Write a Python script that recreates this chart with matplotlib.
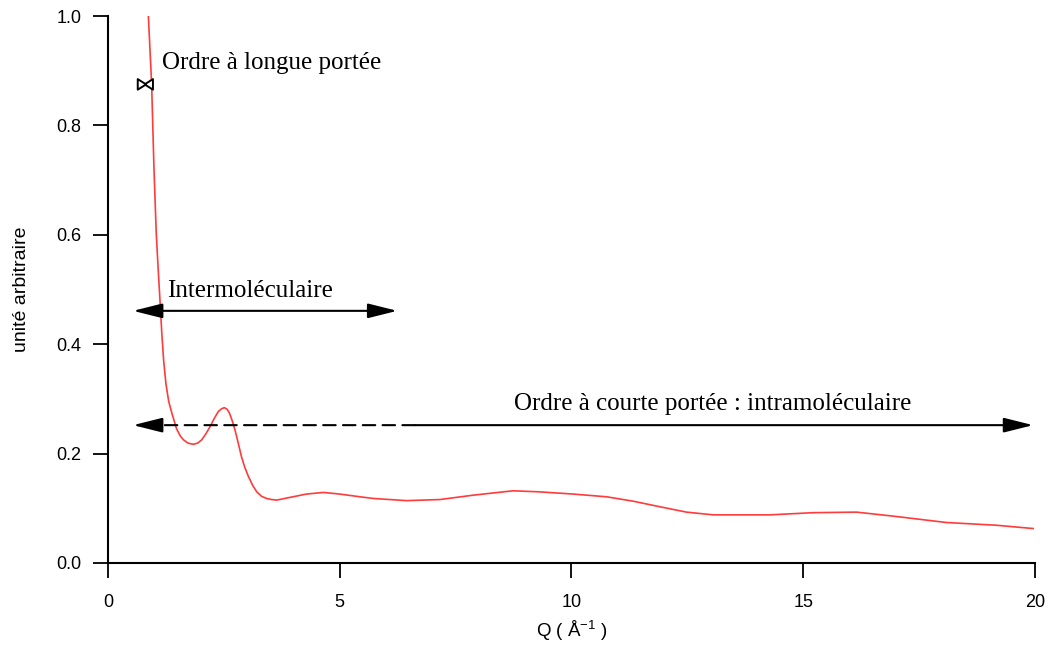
import matplotlib
matplotlib.use("Agg")
import matplotlib.pyplot as plt

# facteur de structure
q = [0.87, 0.94, 0.99, 1.04, 1.08, 1.12, 1.16, 1.20, 1.25, 1.31, 1.39, 1.48,
     1.56, 1.63, 1.73, 1.84, 1.93, 2.02, 2.11, 2.20, 2.29, 2.38, 2.45, 2.51,
     2.57, 2.62, 2.68, 2.74, 2.81, 2.88, 2.95, 3.03, 3.12, 3.21, 3.31, 3.42,
     3.53, 3.64, 3.93, 4.28, 4.65, 5.00, 5.44, 5.72, 6.44, 7.16, 7.88, 8.74,
     9.32, 10.04, 10.76, 11.33, 11.84, 12.48, 13.06, 14.28, 15.22, 16.15,
     17.01, 18.09, 19.17, 19.96]
s_q = [1.000, 0.877, 0.724, 0.603, 0.540, 0.481, 0.420, 0.370, 0.327, 0.295,
       0.270, 0.245, 0.232, 0.225, 0.219, 0.217, 0.219, 0.225, 0.236, 0.249,
       0.264, 0.277, 0.282, 0.284, 0.281, 0.274, 0.260, 0.243, 0.219, 0.194,
       0.175, 0.158, 0.142, 0.130, 0.122, 0.118, 0.116, 0.115, 0.120, 0.126,
       0.129, 0.126, 0.121, 0.118, 0.114, 0.116, 0.124, 0.132, 0.130, 0.126,
       0.121, 0.113, 0.104, 0.093, 0.088, 0.088, 0.092, 0.093, 0.085, 0.074,
       0.069, 0.063]

x_ticks = [0, 5, 10, 15, 20]
y_ticks = [0.0, 0.2, 0.4, 0.6, 0.8, 1.0]

# flèches : (début, fin, hauteur)
inter_arrow = (0.54, 6.24, 0.461)
courte_split = 6.62
courte_arrow = (0.54, 19.96, 0.252)
longue_mark = (0.75, 0.86, 0.875)

plt.rcParams["mathtext.default"] = "regular"
sans = ["Liberation Sans", "DejaVu Sans"]
serif = ["Liberation Serif", "DejaVu Serif"]

fig = plt.figure(figsize=(10.52, 6.46), dpi=100)
ax = fig.add_axes([0.1027, 0.1285, 0.8811, 0.8467])

ax.plot(q, s_q, color="#ff3b3b", lw=1.2, zorder=3)

ax.set_xlim(0, 20)
ax.set_ylim(0, 1.0)
ax.set_xticks(x_ticks)
ax.set_yticks(y_ticks)
ax.set_xticklabels([str(t) for t in x_ticks], family=sans, fontsize=13)
ax.set_yticklabels([f"{t:.1f}" for t in y_ticks], family=sans, fontsize=13)
ax.tick_params(axis="x", direction="out", length=11, width=1.3, pad=11)
ax.tick_params(axis="y", direction="out", length=11, width=1.3, pad=8)
for side in ("top", "right"):
    ax.spines[side].set_visible(False)
for side in ("left", "bottom"):
    ax.spines[side].set_linewidth(1.5)

ax.set_xlabel("Q ( Å$^{-1}$ )", family=sans, fontsize=13.5, labelpad=6)
ax.set_ylabel("unité arbitraire", family=sans, fontsize=14, labelpad=19)

head = "head_length=1.8,head_width=0.45"
a0, a1, ay = inter_arrow
ax.annotate("", xy=(a1, ay), xytext=(a0, ay),
            arrowprops=dict(arrowstyle="<|-|>," + head, mutation_scale=10,
                            color="black", lw=1.5, shrinkA=0, shrinkB=0))
ax.text(1.27, 0.497, "Intermoléculaire", family=serif, fontsize=18,
        ha="left", va="center")

c0, c1, cy = courte_arrow
# partie pointillée + tête pleine à gauche
ax.annotate("", xy=(c0 + 0.5, cy), xytext=(courte_split, cy),
            arrowprops=dict(arrowstyle="-", color="black", lw=1.5,
                            linestyle=(0, (6, 3.5)), shrinkA=0, shrinkB=0))
ax.annotate("", xy=(c0, cy), xytext=(c0 + 0.62, cy),
            arrowprops=dict(arrowstyle="-|>," + head, mutation_scale=10,
                            color="black", lw=1.5, shrinkA=0, shrinkB=0))
ax.annotate("", xy=(c1, cy), xytext=(courte_split, cy),
            arrowprops=dict(arrowstyle="-|>," + head, mutation_scale=10,
                            color="black", lw=1.5, shrinkA=0, shrinkB=0))
ax.text(13.05, 0.290, "Ordre à courte portée : intramoléculaire", family=serif,
        fontsize=18, ha="center", va="center")

m0, m1, my = longue_mark
ax.annotate("", xy=(m1, my), xytext=(m0, my),
            arrowprops=dict(arrowstyle="<|-|>,head_length=0.6,head_width=0.38",
                            mutation_scale=10, color="black", lw=1.4,
                            fc="white", shrinkA=0, shrinkB=0))
ax.text(1.17, 0.914, "Ordre à longue portée", family=serif, fontsize=18,
        ha="left", va="center")

fig.savefig("out.png", dpi=100)
